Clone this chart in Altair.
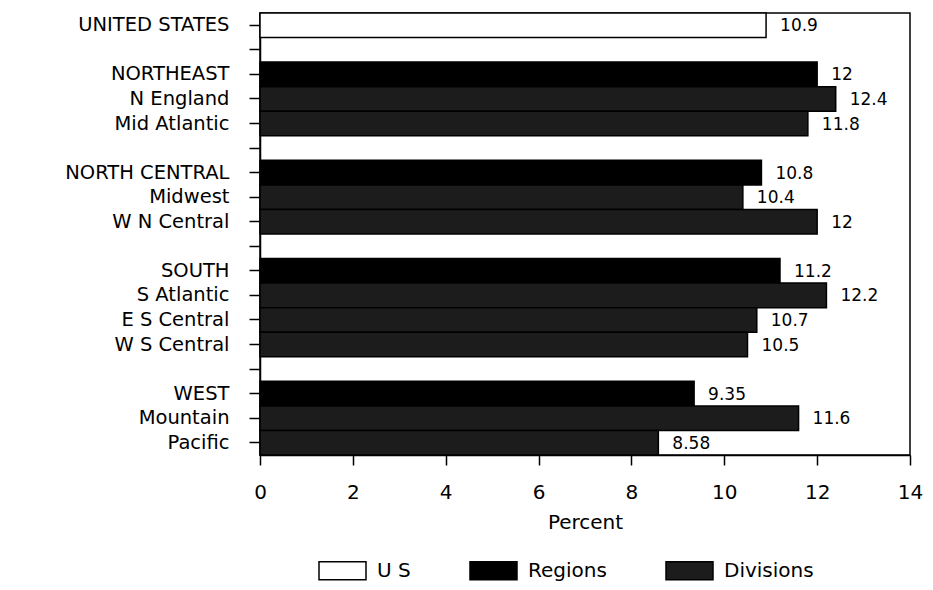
import altair as alt
import pandas as pd

rows = ["UNITED STATES", "gap1", "NORTHEAST", "N England", "Mid Atlantic", "gap2",
        "NORTH CENTRAL", "Midwest", "W N Central", "gap3",
        "SOUTH", "S Atlantic", "E S Central", "W S Central", "gap4",
        "WEST", "Mountain", "Pacific"]

names = ["UNITED STATES", "NORTHEAST", "N England", "Mid Atlantic",
         "NORTH CENTRAL", "Midwest", "W N Central",
         "SOUTH", "S Atlantic", "E S Central", "W S Central",
         "WEST", "Mountain", "Pacific"]
values = [10.9, 12, 12.4, 11.8, 10.8, 10.4, 12, 11.2, 12.2, 10.7, 10.5, 9.35, 11.6, 8.58]
kinds = ["U S", "Regions", "Divisions", "Divisions",
         "Regions", "Divisions", "Divisions",
         "Regions", "Divisions", "Divisions", "Divisions",
         "Regions", "Divisions", "Divisions"]

legend_order = ["U S", "Regions", "Divisions"]
legend_colors = ["#ffffff", "#000000", "#1c1c1c"]
x_ticks = [0, 2, 4, 6, 8, 10, 12, 14]

df = pd.DataFrame({"name": names, "value": values, "kind": kinds})

FONT = "DejaVu Sans"

y_enc = alt.Y("name:N", sort=rows,
              scale=alt.Scale(domain=rows, paddingInner=0, paddingOuter=0),
              axis=alt.Axis(title=None, labelExpr="indexof(datum.value, 'gap') == 0 ? '' : datum.value",
                            labelFont=FONT, labelFontSize=19.5, labelColor="black",
                            labelPadding=20, tickSize=11, tickColor="black", tickWidth=1.5,
                            domainColor="black", domainWidth=1.5, grid=False))

x_enc = alt.X("value:Q", scale=alt.Scale(domain=[0, 14], nice=False),
              axis=alt.Axis(title="Percent", values=x_ticks, labelFont=FONT, labelFontSize=20,
                            labelColor="black", labelFlush=False, titleFont=FONT, titleFontSize=20,
                            titleFontWeight="normal", titleColor="black", titlePadding=10,
                            labelPadding=17, tickSize=10, tickColor="black", tickWidth=1.5,
                            domainColor="black", domainWidth=1.5, grid=False))

bars = alt.Chart(df).mark_bar(stroke="black", strokeWidth=1.5).encode(
    x=x_enc,
    y=y_enc,
    color=alt.Color("kind:N",
                    scale=alt.Scale(domain=legend_order, range=legend_colors),
                    legend=alt.Legend(title=None, orient="none", direction="horizontal",
                                      legendX=58, legendY=533, padding=0,
                                      symbolType="M-1,-0.38L1,-0.38L1,0.38L-1,0.38Z",
                                      symbolSize=2209, symbolStrokeColor="black",
                                      symbolStrokeWidth=1.5, symbolOpacity=1,
                                      labelFont=FONT, labelFontSize=20, labelColor="black",
                                      labelOffset=10, columnPadding=56)),
)

labels = alt.Chart(df).mark_text(align="left", baseline="middle", dx=14, dy=1,
                                 font=FONT, fontSize=17, color="black").encode(
    x="value:Q",
    y=alt.Y("name:N", sort=rows),
    text=alt.Text("value:Q", format="~g"),
)

chart = alt.layer(bars, labels).properties(
    width=650, height=442,
    autosize=alt.AutoSizeParams(type="none"),
    padding={"left": 252, "top": 5, "right": 15, "bottom": 130},
    background="white",
).configure_view(stroke="black", strokeWidth=1.5)

chart.save("out.html", embed_options={"renderer": "svg", "actions": False})
